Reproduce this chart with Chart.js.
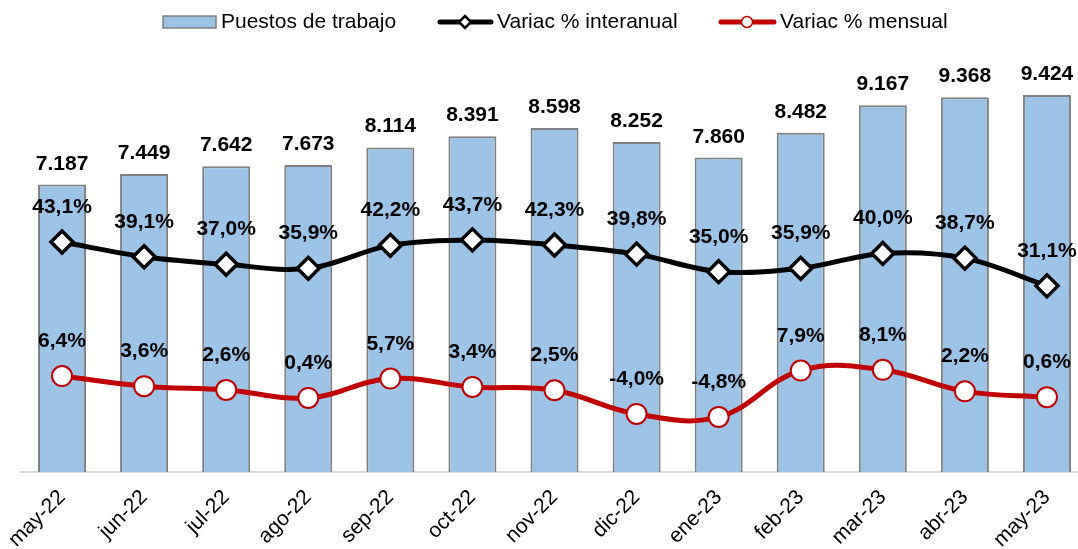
<!DOCTYPE html>
<html><head><meta charset="utf-8">
<script src="https://cdn.jsdelivr.net/npm/chart.js@4"></script>
<style>
html,body{margin:0;padding:0;overflow:hidden;background:#fff;width:1078px;height:549px}
#c{display:block;width:1090px;height:549px}
</style></head>
<body><canvas id="c" width="1090" height="549"></canvas>
<script>
const categories = ['may-22','jun-22','jul-22','ago-22','sep-22','oct-22','nov-22','dic-22','ene-23','feb-23','mar-23','abr-23','may-23'];
const puestos = [7.187, 7.449, 7.642, 7.673, 8.114, 8.391, 8.598, 8.252, 7.860, 8.482, 9.167, 9.368, 9.424];
const interanual = [43.1, 39.1, 37.0, 35.9, 42.2, 43.7, 42.3, 39.8, 35.0, 35.9, 40.0, 38.7, 31.1];
const mensual = [6.4, 3.6, 2.6, 0.4, 5.7, 3.4, 2.5, -4.0, -4.8, 7.9, 8.1, 2.2, 0.6];
const seriesNames = ['Puestos de trabajo', 'Variac % interanual', 'Variac % mensual'];

const FONT = '"Liberation Sans", Arial, sans-serif';
const BAR_FILL = '#9dc3e6', BAR_EDGE = '#808080', BLACK = '#000000', RED = '#c00000';

const fmtBar = v => v.toFixed(3);
const fmtPct = v => v.toFixed(1).replace('.', ',') + '%';

const labelPlugin = {
  id: 'valueLabels',
  afterDatasetsDraw(chart) {
    const ctx = chart.ctx;
    ctx.save();
    ctx.font = 'bold 21px ' + FONT;
    ctx.fillStyle = '#000';
    ctx.textAlign = 'center';
    ctx.textBaseline = 'alphabetic';
    chart.data.datasets.forEach((ds, i) => {
      const meta = chart.getDatasetMeta(i);
      meta.data.forEach((el, j) => {
        const v = ds.data[j];
        if (ds.type === 'bar') {
          ctx.fillText(fmtBar(v), el.x, el.y - 15);
        } else {
          ctx.fillText(fmtPct(v), el.x, el.y - 29);
        }
      });
    });
    ctx.restore();
  }
};

const legendPlugin = {
  id: 'customLegend',
  afterDraw(chart) {
    const ctx = chart.ctx;
    const names = chart.data.datasets.map(d => d.label);
    const cy = 22;
    ctx.save();
    ctx.font = '21px ' + FONT;
    ctx.textBaseline = 'middle';
    ctx.textAlign = 'left';
    ctx.fillStyle = BAR_FILL;
    ctx.fillRect(163, 16, 53, 12);
    ctx.strokeStyle = BAR_EDGE; ctx.lineWidth = 1.5;
    ctx.strokeRect(163, 16, 53, 12);
    ctx.fillStyle = '#000';
    ctx.fillText(names[0], 221, cy);
    ctx.strokeStyle = BLACK; ctx.lineWidth = 5; ctx.lineCap = 'round';
    ctx.beginPath(); ctx.moveTo(440, cy); ctx.lineTo(491, cy); ctx.stroke();
    ctx.beginPath();
    ctx.moveTo(465 - 6, cy); ctx.lineTo(465, cy - 6); ctx.lineTo(465 + 6, cy); ctx.lineTo(465, cy + 6); ctx.closePath();
    ctx.fillStyle = '#fff'; ctx.fill(); ctx.lineWidth = 2.5; ctx.stroke();
    ctx.fillStyle = '#000';
    ctx.fillText(names[1], 497, cy);
    ctx.strokeStyle = RED; ctx.lineWidth = 5;
    ctx.beginPath(); ctx.moveTo(721, cy); ctx.lineTo(774, cy); ctx.stroke();
    ctx.beginPath(); ctx.arc(747, cy, 5.5, 0, Math.PI * 2);
    ctx.fillStyle = '#fff'; ctx.fill(); ctx.lineWidth = 1.5; ctx.stroke();
    ctx.fillStyle = '#000';
    ctx.fillText(names[2], 780, cy);
    ctx.restore();
  }
};

new Chart(document.getElementById('c'), {
  data: {
    labels: categories,
    datasets: [
      {
        type: 'bar', label: seriesNames[0], data: puestos, yAxisID: 'y', order: 3,
        backgroundColor: BAR_FILL, borderColor: BAR_EDGE, borderWidth: 2,
        barPercentage: 0.585, categoryPercentage: 1.0
      },
      {
        type: 'line', label: seriesNames[1], data: interanual, yAxisID: 'y2', order: 1,
        borderColor: BLACK, borderWidth: 5, tension: 0.35,
        pointStyle: 'rectRot', pointRadius: 11, pointBorderWidth: 3.5,
        pointBackgroundColor: '#fff', pointBorderColor: BLACK
      },
      {
        type: 'line', label: seriesNames[2], data: mensual, yAxisID: 'y2', order: 2,
        borderColor: RED, borderWidth: 5, tension: 0.4,
        pointStyle: 'circle', pointRadius: 10, pointBorderWidth: 2,
        pointBackgroundColor: '#fff', pointBorderColor: RED
      }
    ]
  },
  options: {
    responsive: false, animation: false,
    layout: { autoPadding: false, padding: { top: 45, left: 21, right: 2, bottom: 0 } },
    plugins: { legend: { display: false }, tooltip: { enabled: false } },
    scales: {
      x: {
        offset: true,
        grid: { display: false, drawTicks: false },
        border: { display: true, color: '#d9d9d9', width: 2 },
        ticks: { color: '#000', font: { family: FONT, size: 21 }, maxRotation: 45, minRotation: 45, padding: 13, autoSkip: false },
        afterFit(s) { s.height = 77; s.paddingLeft = 0; s.paddingRight = 0; }
      },
      y: { display: false, min: 0, max: 10.675 },
      y2: { display: false, min: -19.9, max: 97.1 }
    }
  },
  plugins: [labelPlugin, legendPlugin]
});
</script>
</body></html>
